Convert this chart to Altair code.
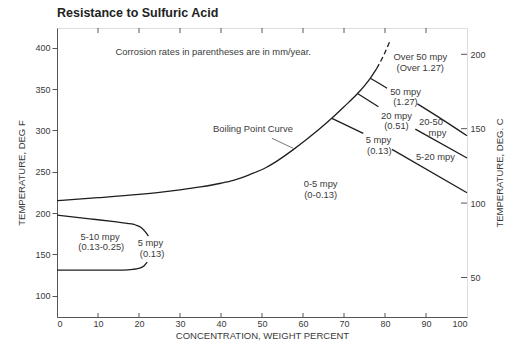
import altair as alt
import pandas as pd

# ---------------- data ----------------
# Boiling point curve (concentration %, temperature F)
boil_x = [0, 10, 20, 25, 30, 35, 40, 43, 47, 51, 54, 57.7, 61, 64, 67, 70, 73.3, 76.4, 78]
boil_f = [215, 218.5, 222.5, 225, 228, 231.5, 236, 239.5, 246.5, 255, 264, 277, 289.5, 301.5, 314.5, 328.5, 344.5, 363, 375]
boil_dash_x = [78, 79.7, 81.3]
boil_dash_f = [375, 391, 409]

# iso-corrosion lines (upper right)
mpy50_a_x = [76.4, 78.5, 80.5]
mpy50_a_f = [363, 357, 351]
mpy50_b_x = [87.9, 94, 100]
mpy50_b_f = [332, 313, 293.5]
mpy20_a_x = [73.3, 78.4]
mpy20_a_f = [344.5, 328.5]
mpy20_b_x = [87.4, 100]
mpy20_b_f = [301.5, 266.5]
mpy5_a_x = [67.05, 74.7]
mpy5_a_f = [314.5, 296.4]
mpy5_b_x = [81.7, 100]
mpy5_b_f = [277, 224.5]

# lower-left 5 mpy boundary
low_top_x = [0, 8, 14, 17.1, 19.2, 20.5, 21.5, 22.3]
low_top_f = [197.5, 193, 189.5, 187.5, 185.5, 182.5, 177.5, 172]
low_bot_x = [0, 10, 16.2, 18.5, 19.9, 21.2, 22]
low_bot_f = [131, 131, 131, 131.8, 133.1, 136, 140.5]

# leader line for "Boiling Point Curve"
leader_x = [52.4, 57.6]
leader_f = [290.4, 278.3]

# region labels
label_text = ["Corrosion rates in parentheses are in mm/year.", "Boiling Point Curve",
              "Over 50 mpy", "(Over 1.27)", "50 mpy", "(1.27)", "20 mpy", "(0.51)",
              "20-50", "mpy", "5 mpy", "(0.13)", "5-20 mpy", "0-5 mpy", "(0-0.13)",
              "5-10 mpy", "(0.13-0.25)", "5 mpy", "(0.13)"]
label_x = [38.1, 47.8, 88.6, 88.6, 85.0, 85.0, 82.8, 82.8,
           91.2, 92.8, 78.4, 78.6, 92.3, 64.3, 64.3,
           10.5, 10.8, 22.8, 23.2]
label_f = [394.4, 301.6, 388.4, 375.2, 346.9, 334.1, 317.5, 304.7,
           309.6, 296.8, 288.4, 275.6, 268.1, 234.9, 222.1,
           171.4, 158.6, 163.6, 150.8]

x_ticks = [0, 10, 20, 30, 40, 50, 60, 70, 80, 90, 100]
inner_x_ticks = [10, 20, 30, 40, 50, 60, 70, 80, 90]
f_ticks = [100, 150, 200, 250, 300, 350, 400]
c_ticks = [50, 100, 150, 200]

F_DOMAIN = [74.2, 423.8]
C_DOMAIN = [(F_DOMAIN[0] - 32) / 1.8, (F_DOMAIN[1] - 32) / 1.8]

FONT = "Liberation Sans"
INK = "#1e1e1e"
TXT = "#3a3a3a"
W, H = 410, 289

# ---------------- tables ----------------
def series(name, xs, fs):
    return pd.DataFrame({"series": name, "order": range(len(xs)), "x": xs, "f": fs})

solid = pd.concat([
    series("boil", boil_x, boil_f),
    series("m50a", mpy50_a_x, mpy50_a_f),
    series("m50b", mpy50_b_x, mpy50_b_f),
    series("m20a", mpy20_a_x, mpy20_a_f),
    series("m20b", mpy20_b_x, mpy20_b_f),
    series("m5a", mpy5_a_x, mpy5_a_f),
    series("m5b", mpy5_b_x, mpy5_b_f),
    series("lowtop", low_top_x, low_top_f),
    series("lowbot", low_bot_x, low_bot_f),
])
dashed = series("boildash", boil_dash_x, boil_dash_f)
leader = series("leader", leader_x, leader_f)
labels = pd.DataFrame({"text": label_text, "x": label_x, "f": label_f})
inner_ticks = pd.DataFrame({"x": inner_x_ticks})
c_df = pd.DataFrame({"c": c_ticks})

xscale = alt.Scale(domain=[0, 100], nice=False, zero=False)
fscale = alt.Scale(domain=F_DOMAIN, nice=False, zero=False)

common_axis = dict(labelFont=FONT, titleFont=FONT, labelFontSize=9, titleFontSize=9.5,
                   labelColor=TXT, titleColor=TXT, titleFontWeight="normal",
                   domainColor="#555", tickColor="#555", grid=False, format="d")

xaxis = alt.Axis(values=x_ticks, title="CONCENTRATION, WEIGHT PERCENT", tickSize=0,
                 labelPadding=2, titlePadding=2, **common_axis)
faxis = alt.Axis(values=f_ticks, title="TEMPERATURE, DEG F", tickSize=5,
                 labelPadding=2, titlePadding=8, **common_axis)

def X(field):
    return alt.X(field, type="quantitative", scale=xscale, axis=xaxis)

def Y(field):
    return alt.Y(field, type="quantitative", scale=fscale, axis=faxis)

lines = alt.Chart(solid).mark_line(interpolate="monotone", color=INK, strokeWidth=1.3).encode(
    x=X("x"), y=Y("f"), detail="series:N", order="order:Q")
dash = alt.Chart(dashed).mark_line(interpolate="monotone", color=INK, strokeWidth=1.3,
                                   strokeDash=[5, 3]).encode(
    x=X("x"), y=Y("f"), order="order:Q")
lead = alt.Chart(leader).mark_line(color="#555", strokeWidth=0.8).encode(
    x=X("x"), y=Y("f"), order="order:Q")
texts = alt.Chart(labels).mark_text(font=FONT, fontSize=9.4, color=TXT, align="center",
                                    baseline="middle").encode(
    x=X("x"), y=Y("f"), text="text:N")
top_ticks = alt.Chart(inner_ticks).mark_rule(color="#555", strokeWidth=1).encode(
    x=X("x"), y=alt.value(0), y2=alt.value(5))
bot_ticks = alt.Chart(inner_ticks).mark_rule(color="#555", strokeWidth=1).encode(
    x=X("x"), y=alt.value(H), y2=alt.value(H - 4))

main = alt.layer(lines, dash, lead, texts, top_ticks, bot_ticks)

c_layer = alt.Chart(c_df).mark_rule(color="#555", strokeWidth=1).encode(
    x=alt.value(W - 6), x2=alt.value(W),
    y=alt.Y("c:Q", scale=alt.Scale(domain=C_DOMAIN, nice=False, zero=False),
            axis=alt.Axis(orient="right", values=c_ticks, title="TEMPERATURE, DEG. C",
                          tickSize=0, labelPadding=3, titlePadding=19, titleAngle=270,
                          domain=False, **common_axis)))

chart = alt.layer(main, c_layer).resolve_scale(y="independent").properties(
    width=W, height=H,
    title=alt.TitleParams("Resistance to Sulfuric Acid", anchor="start", frame="group",
                          font=FONT, fontSize=12.5, fontWeight="bold", color="#222",
                          offset=8),
    autosize=alt.AutoSizeParams(type="none"),
    padding={"left": 57, "top": 28, "right": 49, "bottom": 37},
).configure_view(stroke="#555", strokeWidth=1).configure(background="white")

chart.save("out.html", embed_options={"renderer": "svg", "actions": False})
